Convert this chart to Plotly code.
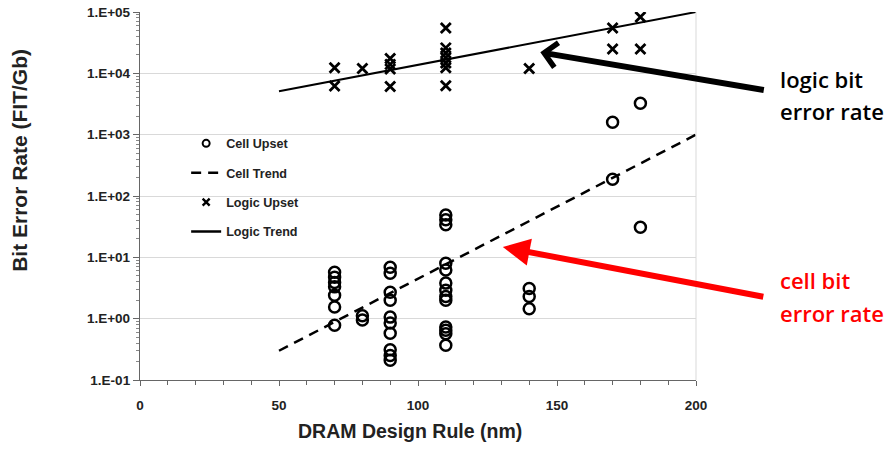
import math
import plotly.graph_objects as go

# ---- data ----
cell_x = [70, 70, 70, 70, 70, 70, 70,
          80, 80,
          90, 90, 90, 90, 90, 90, 90, 90, 90, 90,
          110, 110, 110, 110, 110, 110, 110, 110, 110, 110, 110, 110, 110,
          140, 140, 140,
          170, 170,
          180, 180]
cell_y = [5.7, 4.75, 3.9, 3.3, 2.4, 1.55, 0.78,
          1.12, 0.95,
          6.9, 5.5, 2.7, 2.0, 1.06, 0.85, 0.58, 0.31, 0.25, 0.21,
          49, 41, 34, 8.0, 6.2, 3.8, 2.9, 2.3, 2.0, 0.73, 0.65, 0.57, 0.37,
          3.1, 2.3, 1.45,
          1600, 188,
          3250, 31]

logic_x = [70, 70, 80, 90, 90, 90, 90,
           110, 110, 110, 110, 110, 110, 110,
           140, 170, 170, 180, 180]
logic_y = [12300, 6200, 12000, 17500, 14000, 11800, 6100,
           55000, 26000, 21500, 18000, 14800, 12300, 6300,
           12000, 55000, 25000, 83000, 25000]

trend_x = [50, 200]
cell_trend = [0.3, 1000]
logic_trend = [5100, 100000]

y_tickvals = [0.1, 1, 10, 100, 1000, 10000, 100000]
y_ticktext = ["1.E-01", "1.E+00", "1.E+01", "1.E+02", "1.E+03", "1.E+04", "1.E+05"]
x_tickvals = [0, 50, 100, 150, 200]

AX = "Liberation Sans, Arial, sans-serif"
TXT = "#222222"

fig = go.Figure()
# data traces
fig.add_trace(go.Scatter(
    x=cell_x, y=cell_y, mode="markers", name="Cell Upset", showlegend=False,
    marker=dict(symbol="circle-open", size=11, color="black", line=dict(width=2.5, color="black"))))
fig.add_trace(go.Scatter(
    x=trend_x, y=cell_trend, mode="lines", name="Cell Trend", showlegend=False,
    line=dict(color="black", width=2.5, dash="10px,7px")))
fig.add_trace(go.Scatter(
    x=logic_x, y=logic_y, mode="markers", name="Logic Upset", showlegend=False,
    marker=dict(symbol="x-thin", size=10, color="black", line=dict(width=2.8, color="black"))))
fig.add_trace(go.Scatter(
    x=trend_x, y=logic_trend, mode="lines", name="Logic Trend", showlegend=False,
    line=dict(color="black", width=2)))

# legend entries (smaller symbols, as in the original legend)
fig.add_trace(go.Scatter(x=[None], y=[None], mode="markers", name="Cell Upset", legendgroup="a",
                         marker=dict(symbol="circle-open", size=7, color="black",
                                     line=dict(width=2, color="black"))))
fig.add_trace(go.Scatter(x=[None], y=[None], mode="lines", name="Cell Trend", legendgroup="b",
                         line=dict(color="black", width=2.5, dash="10px,7px")))
fig.add_trace(go.Scatter(x=[None], y=[None], mode="markers", name="Logic Upset", legendgroup="c",
                         marker=dict(symbol="x-thin", size=7, color="black",
                                     line=dict(width=2.4, color="black"))))
fig.add_trace(go.Scatter(x=[None], y=[None], mode="lines", name="Logic Trend", legendgroup="d",
                         line=dict(color="black", width=2.5)))

fig.update_layout(
    width=893, height=449,
    margin=dict(l=140, r=197, t=12, b=69, autoexpand=False),
    paper_bgcolor="white", plot_bgcolor="white",
    showlegend=True,
    legend=dict(x=0.083, y=0.683, xanchor="left", yanchor="top",
                bgcolor="rgba(0,0,0,0)", borderwidth=0,
                traceorder="grouped", tracegroupgap=10,
                font=dict(family=AX, size=12.6, color=TXT, weight="bold")),
    font=dict(family=AX, color=TXT),
)

fig.update_xaxes(
    range=[0, 200], tickmode="array", tickvals=x_tickvals,
    showgrid=False, zeroline=False, automargin=False,
    showline=True, linecolor="#666", linewidth=1.3,
    ticks="outside", ticklen=5, tickcolor="#666", tickwidth=1,
    ticklabelstandoff=8, ticklabeloverflow="allow",
    tickfont=dict(family=AX, size=13.5, color=TXT, weight="bold"),
    minor=dict(dtick=10, ticks="outside", ticklen=4, tickcolor="#666", showgrid=False),
)
fig.update_yaxes(
    type="log", range=[-1, 5], tickmode="array",
    tickvals=y_tickvals, ticktext=y_ticktext,
    showgrid=True, gridcolor="#d9d9d9", gridwidth=1, zeroline=False, automargin=False,
    showline=True, linecolor="#666", linewidth=1.3,
    ticks="outside", ticklen=6, tickcolor="#666", tickwidth=1,
    ticklabelstandoff=0, ticklabeloverflow="allow",
    tickfont=dict(family=AX, size=13.5, color=TXT, weight="bold"),
    minor=dict(dtick="D1", ticks="outside", ticklen=3, tickcolor="#888", showgrid=False),
)

# right border and legend backdrop
fig.add_shape(type="line", xref="paper", yref="paper", x0=1, x1=1, y0=0, y1=1,
              line=dict(color="#d9d9d9", width=1))
fig.add_shape(type="rect", xref="paper", yref="paper", x0=0.023, x1=0.345, y0=0.367, y1=0.693,
              fillcolor="white", line=dict(width=0), layer="between")

# axis titles
fig.add_annotation(text="Bit Error Rate (FIT/Gb)", xref="paper", yref="paper",
                   x=-0.216, y=0.598, xanchor="center", yanchor="middle", textangle=-90,
                   showarrow=False, font=dict(family=AX, size=21, color=TXT, weight="bold"))
fig.add_annotation(text="DRAM Design Rule (nm)", xref="paper", yref="paper",
                   x=0.486, y=-0.139, xanchor="center", yanchor="middle",
                   showarrow=False, font=dict(family=AX, size=19.5, color=TXT, weight="bold"))

# arrows
fig.add_annotation(x=144, y=math.log10(22000), xref="x", yref="y", text="",
                   showarrow=True, ax=225, ay=38, arrowhead=4, arrowsize=0.8,
                   arrowwidth=6, arrowcolor="black")
fig.add_annotation(x=130.5, y=math.log10(14.7), xref="x", yref="y", text="",
                   showarrow=True, ax=262, ay=50, arrowhead=2, arrowsize=0.9,
                   arrowwidth=6, arrowcolor="#ff0000")

BIG = dict(family="Open Sans", size=22, weight=600)
for txt, yy, col in [("logic bit", 0.818, "black"), ("error rate", 0.731, "black"),
                     ("cell bit", 0.272, "#ff0000"), ("error rate", 0.182, "#ff0000")]:
    fig.add_annotation(text=txt, xref="paper", yref="paper",
                       x=1.147, y=yy, xanchor="left", yanchor="middle", align="left",
                       showarrow=False, font=dict(color=col, **BIG))

# remove the default 8px page margin so the 893x449 figure fills the window
fig.write_html("out.html", config={"displayModeBar": False},
               post_script="document.body.style.margin='0';")
